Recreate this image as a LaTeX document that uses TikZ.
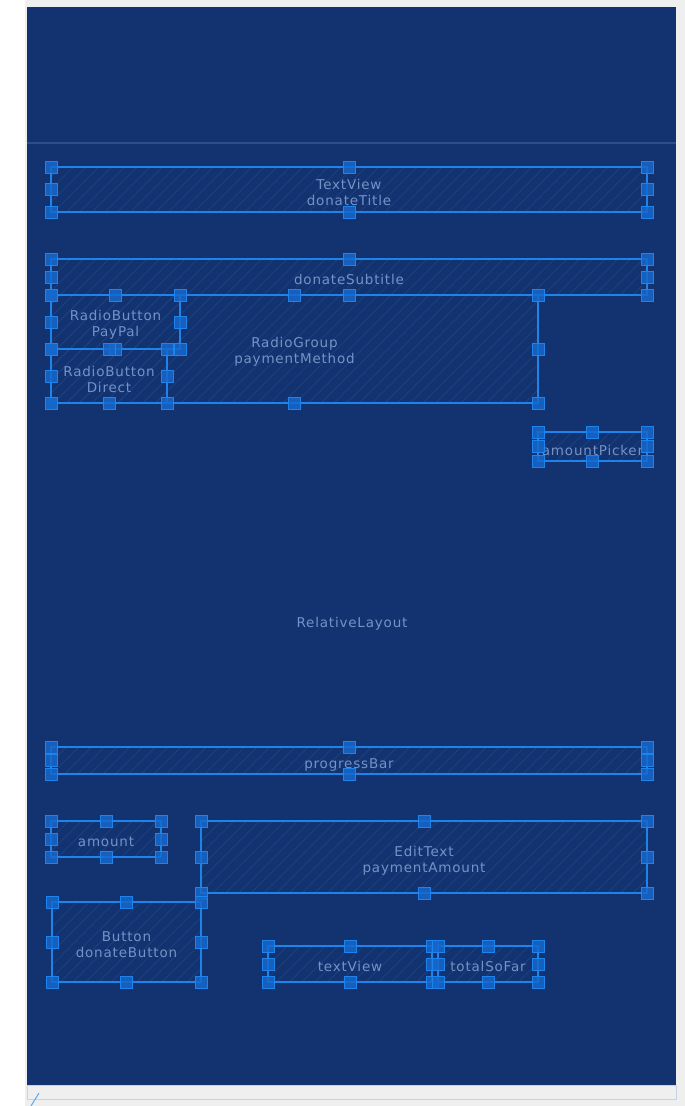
\documentclass[tikz,border=0pt]{standalone}
\usepackage{fontspec}
\setmainfont{DejaVu Sans}
\newfontfamily\lblfont[LetterSpace=6]{DejaVu Sans}
\usetikzlibrary{patterns.meta}
\definecolor{panel}{HTML}{12336F}
\definecolor{outergray}{HTML}{EFEFEF}
\definecolor{divline}{HTML}{2B4E8C}
\definecolor{boxline}{HTML}{1E84EC}
\definecolor{handlefill}{HTML}{1668CC}
\definecolor{hatch}{HTML}{1E4283}
\definecolor{labeltext}{HTML}{7592C8}
\definecolor{stripline}{HTML}{C5D3E3}
\newcommand\wgthandles[1]{%
  \foreach \a [count=\i] in {north west,north,north east,west,east,south west,south,south east}{%
    \node[handlebox] (#1-h\i) at (#1.\a) {};}}
\tikzset{
  wbox/.style={draw=boxline, line width=1.8pt, inner sep=0pt, outer sep=0pt,
    pattern={Lines[angle=45,distance=9pt,line width=0.7pt]}, pattern color=hatch},
  handlebox/.style={draw=boxline, fill=handlefill, fill opacity=0.85, line width=0.9pt,
    minimum size=12pt, inner sep=0pt, outer sep=0pt},
  lbl/.style={text=labeltext, align=center, inner sep=0pt, font=\lblfont\fontsize{13.5}{16}\selectfont}
}
\begin{document}
\begin{tikzpicture}[x=1pt,y=-1pt]
\useasboundingbox (0,0) rectangle (685,1106);
\fill[white] (0,0) rectangle (685,1106);
\fill[outergray] (25,0) rectangle (685,1106);
\fill[panel] (27,7) rectangle (676,1085);
\draw[divline, line width=1.2pt] (27,143) -- (676,143);
\draw[stripline, fill=outergray, line width=0.8pt] (27,1085) rectangle (676,1099);
\coordinate (mk1) at (31,1106);
\coordinate (mk2) at (39,1093);
\draw[boxline!70, line width=1pt] (mk1) -- (mk2);

\node[lbl] (rl) at (352,624) {RelativeLayout};

\node[wbox, minimum width=596pt, minimum height=45pt] (title) at (349,189.5) {};
\node[wbox, minimum width=596pt, minimum height=36pt] (subtitle) at (349,277) {};
\node[wbox, minimum width=487pt, minimum height=108pt] (group) at (294.5,349) {};
\node[wbox, minimum width=129pt, minimum height=54pt] (paypal) at (115.5,322) {};
\node[wbox, minimum width=116pt, minimum height=54pt] (direct) at (109,376) {};
\node[wbox, minimum width=109pt, minimum height=29pt] (picker) at (592.5,446.5) {};
\node[wbox, minimum width=596pt, minimum height=27pt] (progress) at (349,760.5) {};
\node[wbox, minimum width=110pt, minimum height=36pt] (amount) at (106,839) {};
\node[wbox, minimum width=446pt, minimum height=72pt] (edit) at (424,857) {};
\node[wbox, minimum width=149pt, minimum height=80pt] (button) at (126.5,942) {};
\node[wbox, minimum width=164pt, minimum height=36pt] (tview) at (350,964) {};
\node[wbox, minimum width=100pt, minimum height=36pt] (total) at (488,964) {};

\node[lbl] (title-l) at ([yshift=-3pt]title.center) {TextView\\donateTitle};
\node[lbl] (subtitle-l) at ([yshift=-2.5pt]subtitle.center) {donateSubtitle};
\node[lbl] (group-l) at ([yshift=-3pt]group.center) {RadioGroup\\paymentMethod};
\node[lbl] (paypal-l) at ([yshift=-3pt]paypal.center) {RadioButton\\PayPal};
\node[lbl] (direct-l) at ([yshift=-3pt]direct.center) {RadioButton\\Direct};
\node[lbl] (picker-l) at ([yshift=-4pt]picker.center) {amountPicker};
\node[lbl] (progress-l) at ([yshift=-4pt]progress.center) {progressBar};
\node[lbl] (amount-l) at ([yshift=-3pt]amount.center) {amount};
\node[lbl] (edit-l) at ([yshift=-3.5pt]edit.center) {EditText\\paymentAmount};
\node[lbl] (button-l) at ([yshift=-2.5pt]button.center) {Button\\donateButton};
\node[lbl] (tview-l) at ([yshift=-2.5pt]tview.center) {textView};
\node[lbl] (total-l) at ([yshift=-2.5pt]total.center) {totalSoFar};

\wgthandles{title}
\wgthandles{subtitle}
\wgthandles{group}
\wgthandles{paypal}
\wgthandles{direct}
\wgthandles{picker}
\wgthandles{progress}
\wgthandles{amount}
\wgthandles{edit}
\wgthandles{button}
\wgthandles{tview}
\wgthandles{total}
\end{tikzpicture}
\end{document}
